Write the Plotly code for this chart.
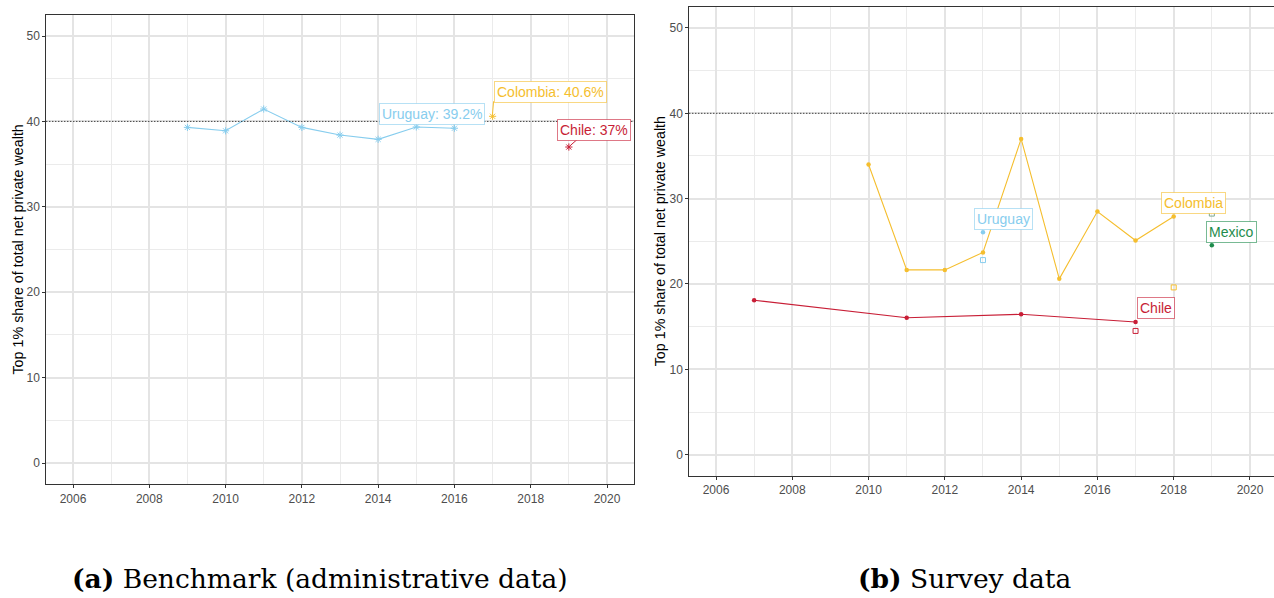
import plotly.graph_objects as go

# ---------------- data ----------------
# Panel (a): benchmark (administrative data)
bench_uy_years = [2009, 2010, 2011, 2012, 2013, 2014, 2015, 2016]
bench_uy_vals = [39.3, 38.9, 41.45, 39.3, 38.4, 37.9, 39.35, 39.2]
bench_co_years = [2017]
bench_co_vals = [40.6]
bench_cl_years = [2019]
bench_cl_vals = [37.0]

# Panel (b): survey data (lines + filled points)
survey_co_years = [2010, 2011, 2012, 2013, 2014, 2015, 2016, 2017, 2018]
survey_co_vals = [34.0, 21.65, 21.65, 23.7, 37.0, 20.6, 28.5, 25.1, 27.9]
survey_cl_years = [2007, 2011, 2014, 2017]
survey_cl_vals = [18.1, 16.05, 16.45, 15.55]
survey_uy_years = [2013]
survey_uy_vals = [26.05]
survey_mx_years = [2019]
survey_mx_vals = [24.55]

# Panel (b): alternative survey estimates (open squares)
alt_uy_years, alt_uy_vals = [2013], [22.8]
alt_co_years, alt_co_vals = [2018], [19.6]
alt_cl_years, alt_cl_vals = [2017], [14.5]
alt_mx_years, alt_mx_vals = [2019], [28.25]

threshold = 40
x_ticks = [2006, 2008, 2010, 2012, 2014, 2016, 2018, 2020]
y_ticks = [0, 10, 20, 30, 40, 50]
y_title = "Top 1% share of total net private wealth"
captions = ["<b>(a)</b> Benchmark (administrative data)", "<b>(b)</b> Survey data"]

# ---------------- style ----------------
C_UY = "#87CDEE"
C_CO = "#F5BE2E"
C_CL = "#C81E36"
C_MX = "#1E8C4C"
B_UY = "rgba(135,205,238,0.6)"
B_CO = "rgba(245,190,46,0.6)"
B_CL = "rgba(200,30,54,0.6)"
B_MX = "rgba(30,140,76,0.6)"

W, H = 1274, 598
FONT = "Liberation Sans, Arial, sans-serif"


def px_x(p):
    """page pixel -> paper fraction"""
    return min(max(p / W, 0.0), 1.0)


def px_y(p):
    return min(max((H - p) / H, 0.0), 1.0)


fig = go.Figure()

# ----- panel (a)
fig.add_trace(go.Scatter(x=bench_uy_years, y=bench_uy_vals, mode="lines+markers",
                         line=dict(color=C_UY, width=1.1),
                         marker=dict(symbol="asterisk-open", size=6, color=C_UY, line=dict(color=C_UY, width=1)),
                         xaxis="x", yaxis="y", showlegend=False, name="Uruguay"))
fig.add_trace(go.Scatter(x=bench_co_years, y=bench_co_vals, mode="markers",
                         marker=dict(symbol="asterisk-open", size=6, color=C_CO, line=dict(color=C_CO, width=1)),
                         xaxis="x", yaxis="y", showlegend=False, name="Colombia"))
fig.add_trace(go.Scatter(x=bench_cl_years, y=bench_cl_vals, mode="markers",
                         marker=dict(symbol="asterisk-open", size=6, color=C_CL, line=dict(color=C_CL, width=1)),
                         xaxis="x", yaxis="y", showlegend=False, name="Chile"))

# ----- panel (b)
fig.add_trace(go.Scatter(x=survey_co_years, y=survey_co_vals, mode="lines+markers",
                         line=dict(color=C_CO, width=1.1), marker=dict(color=C_CO, size=4.5),
                         xaxis="x2", yaxis="y2", showlegend=False, name="Colombia"))
fig.add_trace(go.Scatter(x=survey_cl_years, y=survey_cl_vals, mode="lines+markers",
                         line=dict(color=C_CL, width=1.1), marker=dict(color=C_CL, size=4.5),
                         xaxis="x2", yaxis="y2", showlegend=False, name="Chile"))
fig.add_trace(go.Scatter(x=survey_uy_years, y=survey_uy_vals, mode="markers",
                         marker=dict(color=C_UY, size=4.5),
                         xaxis="x2", yaxis="y2", showlegend=False, name="Uruguay"))
fig.add_trace(go.Scatter(x=survey_mx_years, y=survey_mx_vals, mode="markers",
                         marker=dict(color=C_MX, size=4.5),
                         xaxis="x2", yaxis="y2", showlegend=False, name="Mexico"))
for xs, ys, c in [(alt_uy_years, alt_uy_vals, C_UY), (alt_co_years, alt_co_vals, C_CO),
                  (alt_cl_years, alt_cl_vals, C_CL), (alt_mx_years, alt_mx_vals, "#7FA88F")]:
    fig.add_trace(go.Scatter(x=xs, y=ys, mode="markers",
                             marker=dict(symbol="square-open", size=5, color=c, line=dict(color=c, width=1)),
                             xaxis="x2", yaxis="y2", showlegend=False))

# ----- axes
grid_major = "#E4E4E4"
common_x = dict(tickmode="array", tickvals=x_ticks, ticks="outside", ticklen=3, tickwidth=1,
                tickcolor="#333333", tickfont=dict(family=FONT, size=12, color="#4D4D4D"),
                showgrid=True, gridcolor=grid_major, gridwidth=1.5, zeroline=False,
                showline=True, linecolor="#333333", linewidth=1, automargin=False,
                minor=dict(tick0=2005, dtick=1, showgrid=True, gridcolor="#EBEBEB", gridwidth=0.8, ticks=""))
common_y = dict(tickmode="array", tickvals=y_ticks, ticks="outside", ticklen=3, tickwidth=1,
                tickcolor="#333333", tickfont=dict(family=FONT, size=12, color="#4D4D4D"),
                showgrid=True, gridcolor=grid_major, gridwidth=1.5, zeroline=False,
                showline=True, linecolor="#333333", linewidth=1, range=[-2.5, 52.5], automargin=False,
                minor=dict(tick0=5, dtick=10, showgrid=True, gridcolor="#EBEBEB", gridwidth=0.8, ticks=""))

fig.update_layout(
    width=W, height=H, margin=dict(l=0, r=0, t=0, b=0, autoexpand=False),
    paper_bgcolor="white", plot_bgcolor="white",
    xaxis=dict(common_x, domain=[px_x(46.3), px_x(633.7)], range=[2005.3, 2020.7], anchor="y", mirror=True),
    yaxis=dict(common_y, domain=[px_y(484.4), px_y(14.65)], anchor="x", mirror=True),
    xaxis2=dict(common_x, domain=[px_x(689.3), 1.0], range=[2005.3, 2020.63], anchor="y2", mirror=True),
    yaxis2=dict(common_y, domain=[px_y(476.0), px_y(6.65)], anchor="x2", mirror=False),
)

# threshold dotted lines
for xr, yr in [("x domain", "y"), ("x2 domain", "y2")]:
    fig.add_shape(type="line", xref=xr, yref=yr, x0=0, x1=1, y0=threshold, y1=threshold,
                  line=dict(color="black", width=1, dash="1px,2px"), layer="above")

# ----- labels
lab_font = 14
labels = [
    # text, x, y, xshift, yshift, color, border, axis
    ("Uruguay: %.1f%%" % bench_uy_vals[-1], bench_uy_years[-1], bench_uy_vals[-1], -22, 14, C_UY, B_UY, "1"),
    ("Colombia: %.1f%%" % bench_co_vals[0], bench_co_years[0], bench_co_vals[0], 58, 24, C_CO, B_CO, "1"),
    ("Chile: %g%%" % bench_cl_vals[0], bench_cl_years[0], bench_cl_vals[0], 25, 17, C_CL, B_CL, "1"),
    ("Uruguay", survey_uy_years[0], survey_uy_vals[0], 21, 13.5, C_UY, B_UY, "2"),
    ("Colombia", survey_co_years[-1], survey_co_vals[-1], 20, 13.5, C_CO, B_CO, "2"),
    ("Mexico", survey_mx_years[0], survey_mx_vals[0], 20, 13.5, C_MX, B_MX, "2"),
    ("Chile", survey_cl_years[-1], survey_cl_vals[-1], 20, 13.7, C_CL, B_CL, "2"),
]
for text, x, y, xs, ys, c, b, ax in labels:
    xref = "x" if ax == "1" else "x2"
    yref = "y" if ax == "1" else "y2"
    fig.add_annotation(text=text, x=x, y=y, xref=xref, yref=yref, xshift=xs, yshift=ys,
                       xanchor="center", yanchor="middle",
                       showarrow=False, font=dict(family=FONT, size=lab_font, color=c),
                       bgcolor="white", bordercolor=b, borderwidth=1, borderpad=2)

# label segments (pixel offsets from the data point)
fig.add_shape(type="line", xref="x", yref="y", xsizemode="pixel", ysizemode="pixel",
              xanchor=bench_co_years[0], yanchor=bench_co_vals[0], x0=0, x1=1, y0=3, y1=15,
              line=dict(color=C_CO, width=1))
fig.add_shape(type="line", xref="x", yref="y", xsizemode="pixel", ysizemode="pixel",
              xanchor=bench_cl_years[0], yanchor=bench_cl_vals[0], x0=2, x1=10, y0=2, y1=9,
              line=dict(color=C_CL, width=1))

# y-axis titles
for xc, (yb, yt) in [(18, (484.4, 14.65)), (660, (476, 6.65))]:
    fig.add_annotation(text=y_title, textangle=-90, xref="paper", yref="paper",
                       x=px_x(xc), y=(px_y(yb) + px_y(yt)) / 2, xanchor="center", yanchor="middle",
                       showarrow=False, font=dict(family=FONT, size=14.3, color="black"))

# captions
cap_font = dict(family="DejaVu Serif, serif", size=26.5, color="black")
fig.add_annotation(text=captions[0], xref="paper", yref="paper", x=px_x(319.5), y=px_y(578),
                   xanchor="center", yanchor="middle", showarrow=False, font=cap_font)
fig.add_annotation(text=captions[1], xref="paper", yref="paper", x=px_x(964), y=px_y(578),
                   xanchor="center", yanchor="middle", showarrow=False, font=cap_font)

# remove the default page margin so the figure sits at the window's top-left corner
fig.write_html("out.html", config={"displayModeBar": False},
               post_script="document.body.style.margin='0px';")
